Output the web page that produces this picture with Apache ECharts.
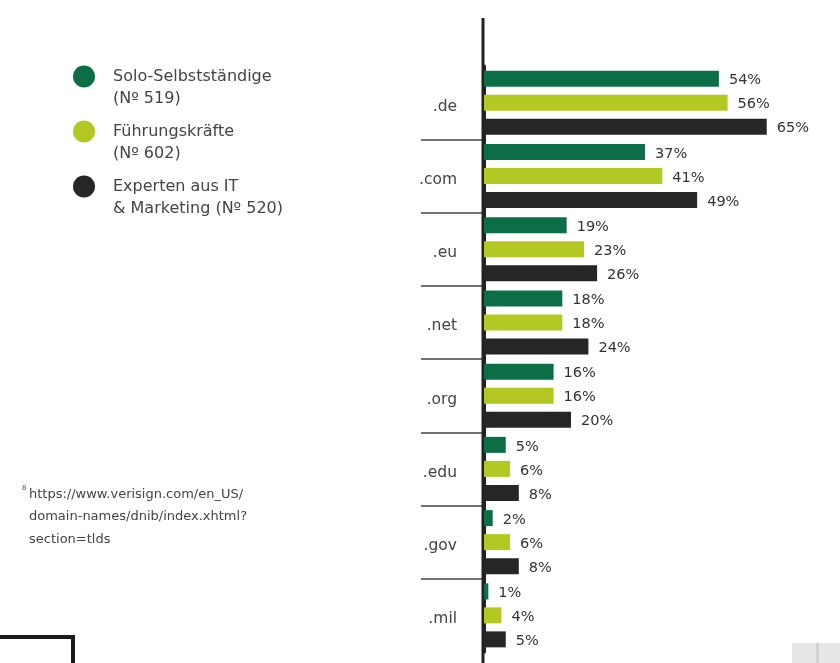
<!DOCTYPE html>
<html>
<head>
<meta charset="utf-8">
<script src="https://cdn.jsdelivr.net/npm/echarts@6/dist/echarts.min.js"></script>
<style>
html,body{margin:0;padding:0;background:#fff;}
#main{width:840px;height:663px;}
</style>
</head>
<body>
<div id="main"></div>
<script>
const categories = ['.de', '.com', '.eu', '.net', '.org', '.edu', '.gov', '.mil'];
const seriesNames = ['Solo-Selbstständige\n(Nº 519)', 'Führungskräfte\n(Nº 602)', 'Experten aus IT\n& Marketing (Nº 520)'];
const soloValues = [54, 37, 19, 18, 16, 5, 2, 1];
const fuehrungValues = [56, 41, 23, 18, 16, 6, 6, 4];
const expertenValues = [65, 49, 26, 24, 20, 8, 8, 5];
const separatorTicks = [1, 2, 3, 4, 5, 6, 7];
const footnoteLines = ['https://www.verisign.com/en_US/', 'domain-names/dnib/index.xhtml?', 'section=tlds'];

const colors = ['#0b6e47', '#b3c823', '#262626'];
const FONT = '"DejaVu Sans", Roboto, sans-serif';

const chart = echarts.init(document.getElementById('main'), null, {renderer: 'canvas'});

function barSeries(name, data, color) {
  return {
    name: name,
    type: 'bar',
    data: data,
    barWidth: 16,
    barGap: '50%',
    itemStyle: {color: color},
    label: {
      show: true,
      position: 'right',
      distance: 10,
      offset: [0, 2],
      formatter: '{c}%',
      fontFamily: FONT,
      fontSize: 14.5,
      color: '#333'
    }
  };
}

const option = {
  backgroundColor: '#fff',
  animation: false,
  color: colors,
  grid: {left: 484, right: 8, top: 66, bottom: 11, containLabel: false},
  xAxis: {type: 'value', min: 0, max: 80, show: false},
  yAxis: [
    {
      type: 'category',
      data: categories,
      inverse: true,
      axisLine: {show: true, lineStyle: {color: '#222', width: 3}},
      axisTick: {show: false},
      axisLabel: {margin: 27, fontFamily: FONT, fontSize: 15.5, color: '#444', verticalAlign: 'top', lineHeight: 8},
      splitLine: {show: false}
    },
    {
      type: 'value',
      min: 0,
      max: 8,
      interval: 1,
      inverse: true,
      position: 'left',
      axisLine: {show: false},
      axisLabel: {show: false},
      splitLine: {show: false},
      axisTick: {show: true, inside: false, length: 63, customValues: separatorTicks, lineStyle: {color: '#444', width: 1.5}}
    }
  ],
  legend: {
    orient: 'vertical',
    left: 73,
    top: 42,
    padding: 0,
    itemWidth: 22,
    itemHeight: 22,
    itemGap: -14,
    icon: 'circle',
    data: seriesNames,
    formatter: function (name) { return '\n' + name; },
    textStyle: {fontFamily: FONT, fontSize: 16, color: '#444', lineHeight: 22, padding: [3, 0, 0, 13]}
  },
  graphic: [
    {type: 'line', z: 1, shape: {x1: 483, y1: 18, x2: 483, y2: 663}, style: {stroke: '#222', lineWidth: 3}},
    {type: 'text', left: 22, top: 485, style: {text: '8', fontFamily: FONT, fontSize: 7, fill: '#555'}},
    {type: 'text', left: 29, top: 483, style: {text: footnoteLines.join('\n'), fontFamily: FONT, fontSize: 13, lineHeight: 22.5, fill: '#444'}},
    {type: 'rect', shape: {x: -6, y: 637, width: 79, height: 40}, style: {fill: 'none', stroke: '#1a1a1a', lineWidth: 4}},
    {type: 'rect', shape: {x: 792, y: 643, width: 48, height: 20}, style: {fill: '#e6e6e6'}},
    {type: 'rect', shape: {x: 816, y: 643, width: 3, height: 20}, style: {fill: '#d2d2d2'}}
  ],
  series: [
    barSeries(seriesNames[0], soloValues, colors[0]),
    barSeries(seriesNames[1], fuehrungValues, colors[1]),
    barSeries(seriesNames[2], expertenValues, colors[2])
  ]
};
chart.setOption(option);
</script>
</body>
</html>
